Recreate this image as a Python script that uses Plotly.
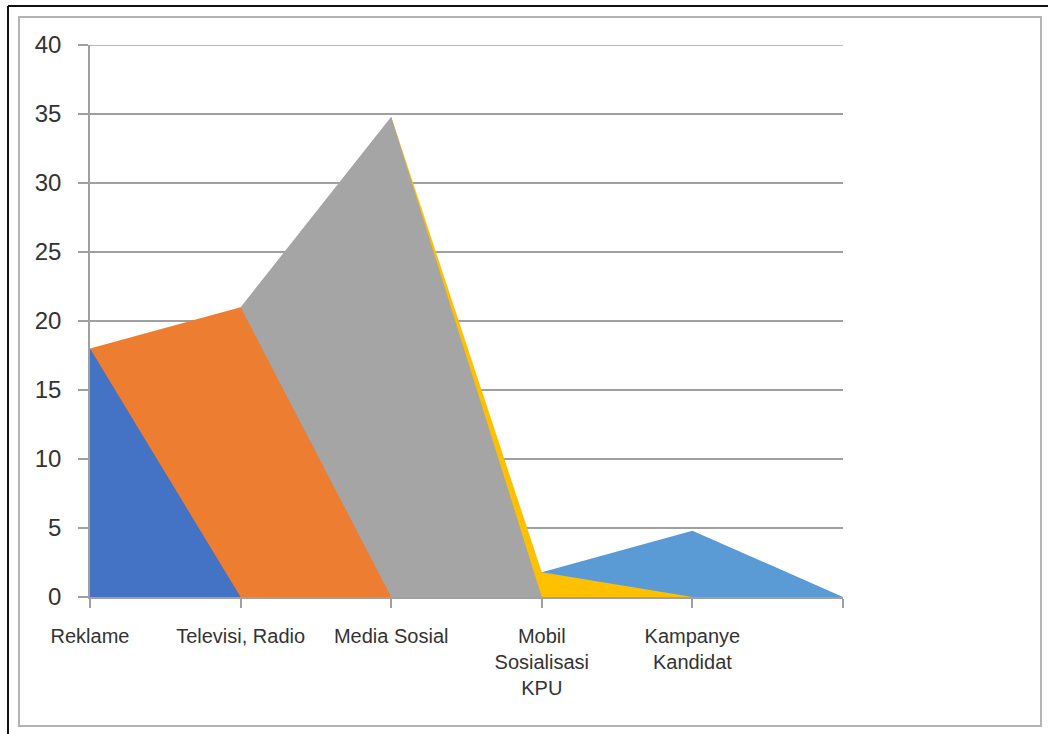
import plotly.graph_objects as go

# Survey categories (the sixth slot is an empty trailing category)
categories = ["Reklame", "Televisi, Radio", "Media Sosial",
              "Mobil<br>Sosialisasi<br>KPU", "Kampanye<br>Kandidat", ""]

# One area series per source, as laid out in the worksheet
reklame = [18, 0, 0, 0, 0, 0]
televisi_radio = [18, 21, 0, 0, 0, 0]
media_sosial = [0, 21, 34.8, 0, 0, 0]
mobil_kpu = [0, 0, 34.8, 1.8, 0, 0]
kampanye = [0, 0, 0, 1.8, 4.8, 0]

y_ticks = [0, 5, 10, 15, 20, 25, 30, 35, 40]

series = [
    ("Reklame", reklame, "#4472C4"),
    ("Televisi, Radio", televisi_radio, "#ED7D31"),
    ("Media Sosial", media_sosial, "#A5A5A5"),
    ("Mobil Sosialisasi KPU", mobil_kpu, "#FFC000"),
    ("Kampanye Kandidat", kampanye, "#5B9BD5"),
]

x = list(range(len(categories)))

fig = go.Figure()
# first series sits in front, so add them back to front
for name, vals, color in reversed(series):
    fig.add_trace(go.Scatter(
        x=x, y=vals, name=name, mode="lines",
        line=dict(width=0, color=color),
        fill="tozeroy", fillcolor=color,
        hoverinfo="name+y",
    ))

W, H = 1048, 734
L, R, T, B = 90, 843, 45, 597
pw, ph = R - L, B - T


def px_x(p):
    return (p - L) / pw


def px_y(p):
    return (B - p) / ph


GRID = "#A0A0A0"

shapes = [
    # inner chart-area frame
    dict(type="rect", xref="paper", yref="paper",
         x0=px_x(19), x1=px_x(1041), y0=px_y(726), y1=px_y(17),
         line=dict(color="#B4B4B4", width=2), fillcolor="rgba(0,0,0,0)",
         layer="below"),
    # outer dark edges
    dict(type="line", xref="paper", yref="paper",
         x0=px_x(8), x1=px_x(1050), y0=px_y(6), y1=px_y(6),
         line=dict(color="#111111", width=2)),
    dict(type="line", xref="paper", yref="paper",
         x0=px_x(8), x1=px_x(8), y0=px_y(6), y1=px_y(740),
         line=dict(color="#111111", width=2)),
    # gridline at the top of the value axis
    dict(type="line", xref="paper", yref="y",
         x0=0, x1=1, y0=y_ticks[-1], y1=y_ticks[-1],
         line=dict(color=GRID, width=1.5), layer="below"),
]

fig.update_layout(
    width=W, height=H,
    margin=dict(l=L, r=W - R, t=T, b=H - B),
    paper_bgcolor="white", plot_bgcolor="white",
    showlegend=False,
    shapes=shapes,
    font=dict(family="Liberation Sans, Arial, sans-serif", color="#333333"),
)

fig.update_xaxes(
    range=[0, len(categories) - 1],
    tickmode="array", tickvals=x, ticktext=categories,
    showgrid=False, zeroline=False,
    showline=True, linecolor=GRID, linewidth=1.5,
    ticks="outside", ticklen=9, tickcolor=GRID, tickwidth=1.5,
    tickfont=dict(size=20, color="#333333"),
    ticklabelstandoff=11,
    tickangle=0,
)

fig.update_yaxes(
    range=[0, y_ticks[-1]],
    tickmode="array", tickvals=y_ticks,
    showgrid=True, gridcolor=GRID, gridwidth=1.5,
    zeroline=False,
    showline=True, linecolor=GRID, linewidth=1.5,
    ticks="outside", ticklen=10, tickcolor=GRID, tickwidth=1.5,
    tickfont=dict(size=24, color="#333333"),
    ticklabelstandoff=12,
)

fig.write_html("out.html")
